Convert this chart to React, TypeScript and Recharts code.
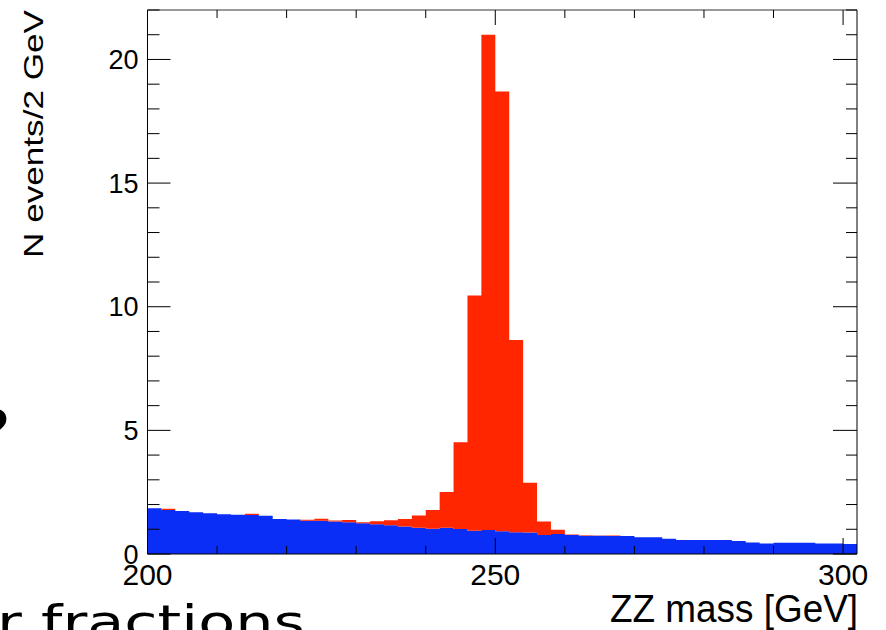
import { ComposedChart, Area, XAxis, YAxis } from "recharts";

// ZZ invariant mass, 2 GeV bins from 200 to 302 GeV (lower edges + closing edge)
const binEdges = [
  200, 202, 204, 206, 208, 210, 212, 214, 216, 218,
  220, 222, 224, 226, 228, 230, 232, 234, 236, 238,
  240, 242, 244, 246, 248, 250, 252, 254, 256, 258,
  260, 262, 264, 266, 268, 270, 272, 274, 276, 278,
  280, 282, 284, 286, 288, 290, 292, 294, 296, 298,
  300, 302,
];

// blue: background (events / 2 GeV)
const background = [
  1.85, 1.78, 1.74, 1.69, 1.65, 1.61, 1.59, 1.58, 1.55, 1.42,
  1.40, 1.34, 1.34, 1.31, 1.28, 1.24, 1.20, 1.16, 1.11, 1.06,
  1.02, 1.06, 1.01, 0.94, 0.97, 0.92, 0.88, 0.87, 0.77, 0.81,
  0.77, 0.74, 0.74, 0.73, 0.73, 0.68, 0.68, 0.62, 0.57, 0.57,
  0.57, 0.57, 0.53, 0.47, 0.42, 0.46, 0.46, 0.46, 0.42, 0.42,
  0.40,
];

// red: signal + background, top of the stack
const total = [
  1.85, 1.83, 1.74, 1.69, 1.65, 1.61, 1.59, 1.63, 1.55, 1.42,
  1.40, 1.39, 1.43, 1.35, 1.38, 1.28, 1.32, 1.36, 1.42, 1.56,
  1.78, 2.51, 4.52, 10.45, 21.0, 18.7, 8.65, 2.88, 1.31, 0.98,
  0.79, 0.76, 0.75, 0.75, 0.73, 0.68, 0.68, 0.62, 0.57, 0.57,
  0.57, 0.57, 0.53, 0.47, 0.42, 0.46, 0.46, 0.46, 0.42, 0.42,
  0.40,
];

const xTicks = [200, 210, 220, 230, 240, 250, 260, 270, 280, 290, 300];
const xLabels = [200, 250, 300];
const yTicks = [0, 1, 2, 3, 4, 5, 6, 7, 8, 9, 10, 11, 12, 13, 14, 15, 16, 17, 18, 19, 20, 21, 22];

const data = binEdges.map((m, i) => {
  const k = Math.min(i, background.length - 1);
  return { m, bkg: background[k], sig: +(total[k] - background[k]).toFixed(2) };
});

const FONT = "'Liberation Sans', Arial, sans-serif";
const BLUE = "#0a2ef5";
const RED = "#ff2600";

const BottomTick = ({ x, y, payload }: any) => {
  const major = xLabels.includes(payload.value);
  return (
    <g>
      <line x1={x} y1={y} x2={x} y2={y - (major ? 16 : 8)} stroke="#000" />
      {major && (
        <text x={x} y={y + 31} textAnchor="middle" fontSize={30} fontFamily={FONT} fill="#000">
          {payload.value}
        </text>
      )}
    </g>
  );
};

const TopTick = ({ x, y, payload }: any) => {
  const major = xLabels.includes(payload.value);
  return <line x1={x} y1={y} x2={x} y2={y + (major ? 15 : 8)} stroke="#000" />;
};

const LeftTick = ({ x, y, payload }: any) => {
  const major = payload.value % 5 === 0;
  return (
    <g>
      <line x1={x} y1={y} x2={x + (major ? 23 : 12)} y2={y} stroke="#000" />
      {major && (
        <text x={x - 9} y={y + 9.5} textAnchor="end" fontSize={27} fontFamily={FONT} fill="#000">
          {payload.value}
        </text>
      )}
    </g>
  );
};

const RightTick = ({ x, y, payload }: any) => {
  const major = payload.value % 5 === 0;
  return <line x1={x} y1={y} x2={x - (major ? 24 : 11)} y2={y} stroke="#000" />;
};

export default function App() {
  return (
    <div style={{ position: "absolute", left: 0, top: 0, width: 886, height: 630, background: "#fff", overflow: "hidden" }}>
      <ComposedChart width={886} height={630} data={data} margin={{ top: 5, right: 19, bottom: 46, left: 107.5 }}>
        <XAxis xAxisId="b" dataKey="m" type="number" domain={[200, 302]} ticks={xTicks} interval={0}
          height={30} tickSize={0} tickMargin={0} tickLine={false} tick={<BottomTick />}
          axisLine={{ stroke: "#000" }} allowDataOverflow />
        <XAxis xAxisId="t" dataKey="m" type="number" orientation="top" domain={[200, 302]} ticks={xTicks} interval={0}
          height={5} tickSize={0} tickMargin={0} tickLine={false} tick={<TopTick />}
          axisLine={{ stroke: "#333" }} allowDataOverflow />
        <YAxis yAxisId="l" type="number" domain={[0, 22]} ticks={yTicks} interval={0}
          width={40} tickSize={0} tickMargin={0} tickLine={false} tick={<LeftTick />}
          axisLine={{ stroke: "#000" }} allowDataOverflow />
        <YAxis yAxisId="r" orientation="right" type="number" domain={[0, 22]} ticks={yTicks} interval={0}
          width={10} tickSize={0} tickMargin={0} tickLine={false} tick={<RightTick />}
          axisLine={{ stroke: "#000" }} allowDataOverflow />
        <Area xAxisId="b" yAxisId="l" type="stepAfter" dataKey="bkg" stackId="h"
          stroke="none" fill={BLUE} fillOpacity={1} isAnimationActive={false} />
        <Area xAxisId="b" yAxisId="l" type="stepAfter" dataKey="sig" stackId="h"
          stroke="none" fill={RED} fillOpacity={1} isAnimationActive={false} />
      </ComposedChart>
      <svg width={886} height={630} style={{ position: "absolute", left: 0, top: 0, pointerEvents: "none" }}>
        <text transform="translate(43,134) rotate(-90)" textAnchor="middle" fontSize={28} fontFamily={FONT}
          fill="#000" textLength={248} lengthAdjust="spacingAndGlyphs">
          N events/2 GeV
        </text>
        <text x={858} y={622} textAnchor="end" fontSize={38} fontFamily={FONT} fill="#000"
          textLength={248} lengthAdjust="spacingAndGlyphs">
          ZZ mass [GeV]
        </text>
        <text x={10} y={449} textAnchor="end" fontSize={56} fontWeight="bold" fontFamily="'DejaVu Sans', sans-serif" fill="#000">
          ?
        </text>
        <text x={-3} y={638} fontSize={46} fontFamily="'DejaVu Sans', sans-serif" fill="#000"
          textLength={308} lengthAdjust="spacingAndGlyphs">
          r fractions
        </text>
      </svg>
    </div>
  );
}
